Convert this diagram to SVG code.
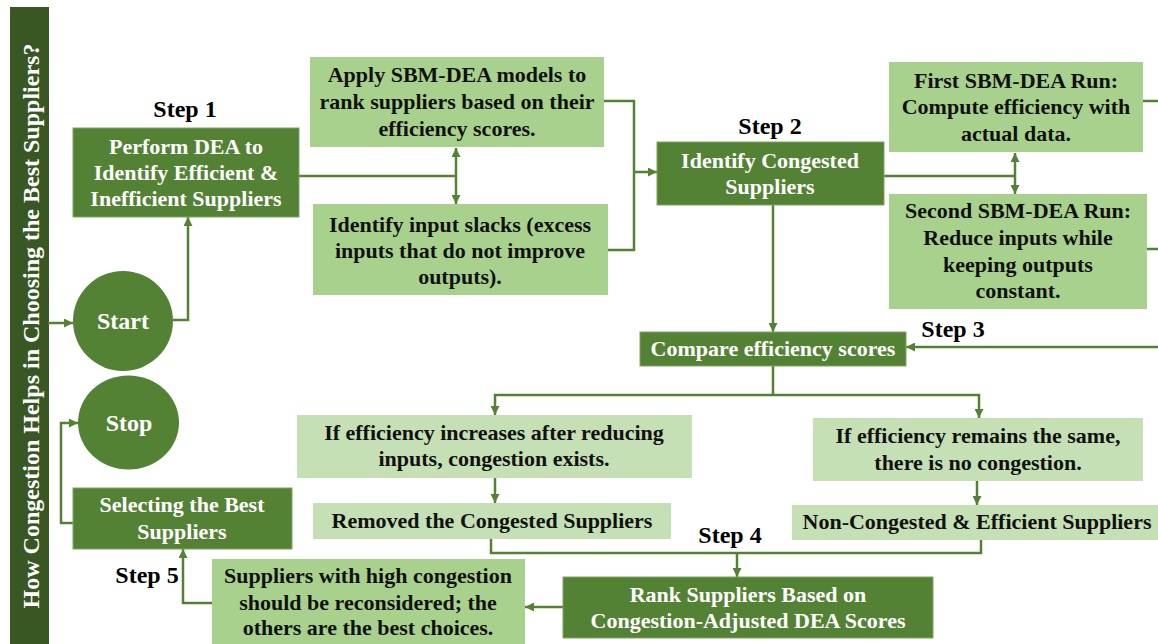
<svg xmlns="http://www.w3.org/2000/svg" width="1158" height="644" viewBox="0 0 1158 644">
<style>
.dk{fill:#548235;stroke:#7fa563;stroke-width:1}
.lt{fill:#a9d18e}
.lt2{fill:#c5e0b4}
.tw{font-family:"Liberation Serif","Times New Roman",serif;font-weight:bold;font-size:22px;fill:#ffffff;text-anchor:middle}
.tb{font-family:"Liberation Serif","Times New Roman",serif;font-weight:bold;font-size:22px;fill:#111111;text-anchor:middle}
.st{font-family:"Liberation Serif","Times New Roman",serif;font-weight:bold;font-size:24px;fill:#000000;text-anchor:middle}
.big{font-size:24px}
.cn{fill:none;stroke:#548235;stroke-width:2.5}
</style>
<defs>
<marker id="ah" viewBox="0 0 10 10" refX="10" refY="5" markerWidth="9" markerHeight="9" markerUnits="userSpaceOnUse" orient="auto-start-reverse">
<path d="M0,0 L10,5 L0,10 z" fill="#548235"/>
</marker>
</defs>
<rect width="1158" height="644" fill="#ffffff"/>

<g id="title">
<rect x="10" y="7" width="39" height="637" fill="#385723"/>
<text class="tw big" transform="translate(39,326) rotate(-90)">How Congestion Helps in Choosing the Best Suppliers?</text>
</g>

<g id="connectors">
<path class="cn" d="M48,323 H73" marker-end="url(#ah)"/>
<path class="cn" d="M173,320 H188 V217" marker-end="url(#ah)"/>
<path class="cn" d="M299,176 H456"/>
<path class="cn" d="M456,148 V204" marker-start="url(#ah)" marker-end="url(#ah)"/>
<path class="cn" d="M604,101 H634 V250 H608"/>
<path class="cn" d="M634,172 H657" marker-end="url(#ah)"/>
<path class="cn" d="M884,176 H1015"/>
<path class="cn" d="M1015,153 V194" marker-start="url(#ah)" marker-end="url(#ah)"/>
<path class="cn" d="M1143,101 H1158"/>
<path class="cn" d="M1147,249 H1158"/>
<path class="cn" d="M1158,347 H906" marker-end="url(#ah)"/>
<path class="cn" d="M773,205 V332" marker-end="url(#ah)"/>
<path class="cn" d="M773,366 V395"/>
<path class="cn" d="M495,415 V395 H979 V418" marker-start="url(#ah)" marker-end="url(#ah)"/>
<path class="cn" d="M495,478 V503" marker-end="url(#ah)"/>
<path class="cn" d="M977,481 V505" marker-end="url(#ah)"/>
<path class="cn" d="M491,539 V553 H981 V540"/>
<path class="cn" d="M737,553 V577" marker-end="url(#ah)"/>
<path class="cn" d="M563,607 H525" marker-end="url(#ah)"/>
<path class="cn" d="M212,603 H183 V549" marker-end="url(#ah)"/>
<path class="cn" d="M73,523 H61 V423 H78" marker-end="url(#ah)"/>
</g>

<g id="start">
<circle cx="123" cy="321" r="50" fill="#548235"/>
<text class="tw big" x="123" y="329">Start</text>
</g>

<g id="stop">
<ellipse cx="128.5" cy="422.5" rx="50.5" ry="47" fill="#548235"/>
<text class="tw big" x="129" y="431">Stop</text>
</g>

<g id="step1">
<text class="st" x="185" y="117">Step 1</text>
</g>

<g id="performDEA">
<rect class="dk" x="73" y="128" width="226" height="89"/>
<text class="tw" x="186" y="154">Perform DEA to</text>
<text class="tw" x="186" y="180">Identify Efficient &amp;</text>
<text class="tw" x="186" y="206">Inefficient Suppliers</text>
</g>

<g id="applySBM">
<rect class="lt" x="310" y="57" width="294" height="90"/>
<text class="tb" x="457" y="82">Apply SBM-DEA models to</text>
<text class="tb" x="457" y="109">rank suppliers based on their</text>
<text class="tb" x="457" y="136">efficiency scores.</text>
</g>

<g id="inputSlacks">
<rect class="lt" x="313" y="204" width="295" height="91"/>
<text class="tb" x="460" y="232">Identify input slacks (excess</text>
<text class="tb" x="460" y="258">inputs that do not improve</text>
<text class="tb" x="460" y="284">outputs).</text>
</g>

<g id="step2">
<text class="st" x="770" y="134">Step 2</text>
</g>

<g id="identifyCongested">
<rect class="dk" x="657" y="142" width="227" height="63"/>
<text class="tw" x="770" y="168">Identify Congested</text>
<text class="tw" x="770" y="194">Suppliers</text>
</g>

<g id="firstRun">
<rect class="lt" x="889" y="62" width="254" height="90"/>
<text class="tb" x="1016" y="88">First SBM-DEA Run:</text>
<text class="tb" x="1016" y="114">Compute efficiency with</text>
<text class="tb" x="1016" y="141">actual data.</text>
</g>

<g id="secondRun">
<rect class="lt" x="889" y="194" width="258" height="115"/>
<text class="tb" x="1018" y="218">Second SBM-DEA Run:</text>
<text class="tb" x="1018" y="245">Reduce inputs while</text>
<text class="tb" x="1018" y="272">keeping outputs</text>
<text class="tb" x="1018" y="298">constant.</text>
</g>

<g id="step3">
<text class="st" x="953" y="337">Step 3</text>
</g>

<g id="compare">
<rect class="dk" x="640" y="332" width="266" height="34"/>
<text class="tw" x="773" y="356">Compare efficiency scores</text>
</g>

<g id="efficiencyIncreases">
<rect class="lt2" x="297" y="415" width="395" height="63"/>
<text class="tb" x="494" y="440">If efficiency increases after reducing</text>
<text class="tb" x="494" y="466">inputs, congestion exists.</text>
</g>

<g id="efficiencySame">
<rect class="lt2" x="813" y="418" width="330" height="63"/>
<text class="tb" x="978" y="443">If efficiency remains the same,</text>
<text class="tb" x="978" y="470">there is no congestion.</text>
</g>

<g id="removed">
<rect class="lt2" x="313" y="503" width="358" height="36"/>
<text class="tb" x="492" y="528">Removed the Congested Suppliers</text>
</g>

<g id="nonCongested">
<rect class="lt2" x="792" y="505" width="366" height="35"/>
<text class="tb" x="977" y="529">Non-Congested &amp; Efficient Suppliers</text>
</g>

<g id="step4">
<text class="st" x="730" y="543">Step 4</text>
</g>

<g id="rank">
<rect class="dk" x="563" y="577" width="370" height="61"/>
<text class="tw" x="748" y="602">Rank Suppliers Based on</text>
<text class="tw" x="748" y="628">Congestion-Adjusted DEA Scores</text>
</g>

<g id="reconsider">
<rect class="lt" x="212" y="559" width="313" height="85"/>
<text class="tb" x="368" y="583">Suppliers with high congestion</text>
<text class="tb" x="368" y="610">should be reconsidered; the</text>
<text class="tb" x="368" y="635">others are the best choices.</text>
</g>

<g id="step5">
<text class="st" x="147" y="583">Step 5</text>
</g>

<g id="selecting">
<rect class="dk" x="73" y="488" width="219" height="61"/>
<text class="tw" x="182" y="512">Selecting the Best</text>
<text class="tw" x="182" y="539">Suppliers</text>
</g>
</svg>
